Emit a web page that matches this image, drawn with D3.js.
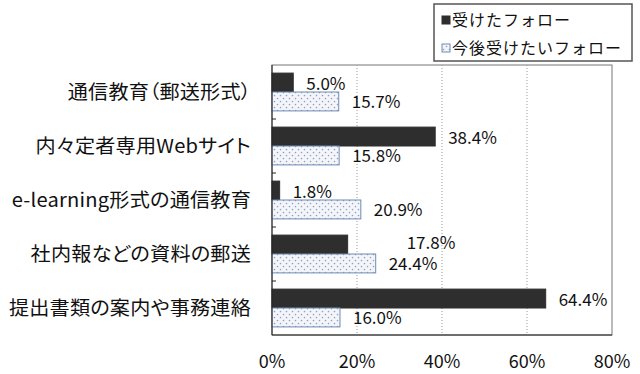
<!DOCTYPE html>
<html>
<head>
<meta charset="utf-8">
<script src="https://cdn.jsdelivr.net/npm/d3@7"></script>
<style>
  body { margin: 0; background: #fff; }
  text { font-family: "Noto Sans CJK JP", "Noto Sans", sans-serif; fill: #111; }
  .cat { font-feature-settings: "palt"; }
</style>
</head>
<body>
<svg width="640" height="374"></svg>
<script>
// chart data
const categories = [
  "通信教育（郵送形式）",
  "内々定者専用Webサイト",
  "e-learning形式の通信教育",
  "社内報などの資料の郵送",
  "提出書類の案内や事務連絡"
];
const seriesNames = ["受けたフォロー", "今後受けたいフォロー"];
const received = [5.0, 38.4, 1.8, 17.8, 64.4];
const wanted = [15.7, 15.8, 20.9, 24.4, 16.0];
const xTicks = [0, 20, 40, 60, 80];

let svg = d3.select("svg");
const plot = {left: 272, right: 612, top: 65, bottom: 335};

let x = d3.scaleLinear().domain([0, 80]).range([plot.left, plot.right]);
let y0 = d3.scaleBand()
  .domain(categories)
  .range([plot.top, plot.bottom])
  .paddingInner(0.3)
  .paddingOuter(0.15);
let y1 = d3.scaleBand().domain(seriesNames).range([0, y0.bandwidth()]);

// dotted fill for the second series
let defs = svg.append("defs");
let pat = defs.append("pattern")
    .attr("id", "dots")
    .attr("patternUnits", "userSpaceOnUse")
    .attr("width", 6)
    .attr("height", 6);
pat.append("rect").attr("width", 6).attr("height", 6).attr("fill", "#f3f5fa");
pat.append("circle").attr("cx", 1.5).attr("cy", 1.5).attr("r", 0.8).attr("fill", "#8a98b0");
pat.append("circle").attr("cx", 4.5).attr("cy", 4.5).attr("r", 0.8).attr("fill", "#8a98b0");

// plot frame
svg.append("rect")
    .attr("x", plot.left)
    .attr("y", plot.top)
    .attr("width", plot.right - plot.left)
    .attr("height", plot.bottom - plot.top)
    .attr("fill", "none")
    .attr("stroke", "#777")
    .attr("stroke-width", 1);

// dotted gridlines
svg.append("g")
  .selectAll("line")
  .data(xTicks.slice(1, -1))
  .enter().append("line")
    .attr("x1", d => x(d))
    .attr("x2", d => x(d))
    .attr("y1", plot.top)
    .attr("y2", plot.bottom)
    .attr("stroke", "#999")
    .attr("stroke-dasharray", "1,2");

// bars
let rows = categories.map((c, i) => ({cat: c, vals: [received[i], wanted[i]]}));
let group = svg.append("g")
  .selectAll("g")
  .data(rows)
  .enter().append("g")
    .attr("transform", d => `translate(0,${y0(d.cat)})`);

group.selectAll("rect")
  .data(d => d.vals.map((v, j) => ({s: seriesNames[j], v: v, j: j})))
  .enter().append("rect")
    .attr("x", x(0))
    .attr("y", d => y1(d.s))
    .attr("width", d => x(d.v) - x(0))
    .attr("height", y1.bandwidth())
    .attr("fill", d => d.j === 0 ? "#2e2e2e" : "url(#dots)")
    .attr("stroke", d => d.j === 0 ? "#2e2e2e" : "#6d8bb5")
    .attr("stroke-width", 1);

// value labels; the upper one is pushed right when it would run into the lower one
group.selectAll("text")
  .data(d => d.vals.map((v, j) => {
    let other = d.vals[1 - j];
    let crowded = j === 0 && other > v && x(other) - x(v) < 40;
    return {s: seriesNames[j], v: v, crowded: crowded, other: other};
  }))
  .enter().append("text")
    .attr("x", d => d.crowded ? x(d.other) + 31 : x(d.v) + 13)
    .attr("y", d => y1(d.s) + y1.bandwidth() / 2 - (d.crowded ? 3 : 0) + 1)
    .attr("dy", "0.35em")
    .attr("font-size", 17)
    .text(d => d.v.toFixed(1) + "%");

// left and bottom axis lines, inward ticks
svg.append("line")
    .attr("x1", plot.left).attr("x2", plot.left)
    .attr("y1", plot.top).attr("y2", plot.bottom)
    .attr("stroke", "#222");
svg.append("line")
    .attr("x1", plot.left).attr("x2", plot.right)
    .attr("y1", plot.bottom).attr("y2", plot.bottom)
    .attr("stroke", "#222");
svg.append("g")
  .selectAll("line")
  .data(categories.slice(1))
  .enter().append("line")
    .attr("x1", plot.left)
    .attr("x2", plot.left + 4)
    .attr("y1", d => y0(d) - y0.step() * y0.paddingInner() / 2)
    .attr("y2", d => y0(d) - y0.step() * y0.paddingInner() / 2)
    .attr("stroke", "#222");

// category labels, stretched a little like the original
svg.append("g")
  .selectAll("text")
  .data(categories)
  .enter().append("text")
    .classed("cat", true)
    .attr("transform", d => `translate(251,${y0(d) + y0.bandwidth() / 2}) scale(1.06,1)`)
    .attr("dy", "0.35em")
    .attr("text-anchor", "end")
    .attr("font-size", 19)
    .attr("letter-spacing", 0.2)
    .text(d => d);

// x tick labels
svg.append("g")
  .selectAll("text")
  .data(xTicks)
  .enter().append("text")
    .attr("x", d => x(d))
    .attr("y", 362)
    .attr("dy", "0.35em")
    .attr("text-anchor", "middle")
    .attr("font-size", 18)
    .text(d => d + "%");

// legend
let legend = svg.append("g");
legend.append("rect")
    .attr("x", 434).attr("y", 4)
    .attr("width", 198).attr("height", 57)
    .attr("fill", "#fff")
    .attr("stroke", "#555")
    .attr("stroke-width", 1.5);
let item = legend.selectAll(".item")
  .data(seriesNames)
  .enter().append("g")
    .classed("item", true)
    .attr("transform", (d, i) => `translate(442,${20 + i * 28})`);
item.append("rect")
    .attr("x", 0).attr("y", -4)
    .attr("width", 8).attr("height", 8)
    .attr("fill", (d, i) => i === 0 ? "#2e2e2e" : "url(#dots)")
    .attr("stroke", (d, i) => i === 0 ? "#2e2e2e" : "#6d8bb5");
item.append("text")
    .attr("x", 10)
    .attr("dy", "0.35em")
    .attr("font-size", 16)
    .attr("letter-spacing", 1)
    .text(d => d);
</script>
</body>
</html>
